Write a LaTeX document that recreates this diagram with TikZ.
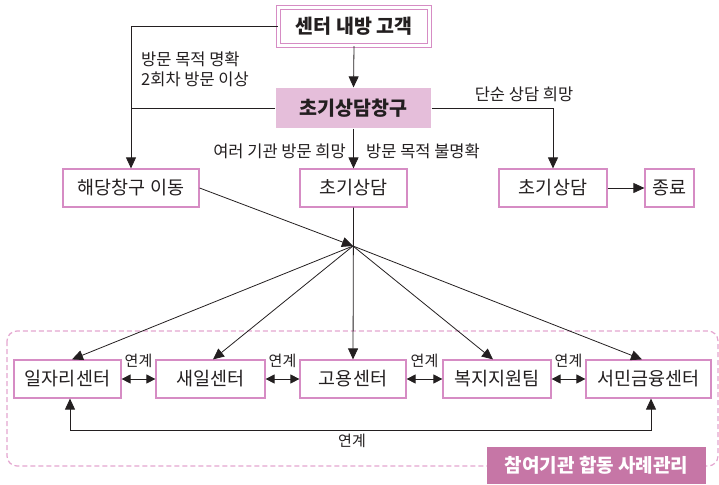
\documentclass[tikz,border=0pt]{standalone}
\usepackage{fontspec}
\setmainfont{Noto Sans CJK KR}
\usetikzlibrary{arrows.meta,calc}
\definecolor{pinkline}{RGB}{214,140,196}
\definecolor{pinkfill}{RGB}{229,190,218}
\definecolor{pinkdark}{RGB}{198,118,166}
\definecolor{pinkdash}{RGB}{228,166,208}
\definecolor{ink}{RGB}{35,31,32}
\begin{document}
\begin{tikzpicture}[x=1pt,y=-1pt,
  box/.style={draw=pinkline, line width=1.2pt, fill=white, inner sep=0pt,
    minimum height=38pt, font=\fontsize{18.5}{18.5}\selectfont, text=ink},
  conn/.style={draw=ink, line width=0.8pt},
  tip/.style={-{Triangle[length=11pt,width=10pt]}},
  dtip/.style={{Triangle[length=9pt,width=9pt]}-{Triangle[length=9pt,width=9pt]}},
  lbl/.style={font=\fontsize{16.5}{16.5}\selectfont, text=ink, inner sep=0pt},
  slbl/.style={font=\fontsize{15}{15}\selectfont, text=ink, inner sep=0pt}
]
\useasboundingbox (0,0) rectangle (719,484);

% group frame
\draw[pinkdash, line width=1.2pt, dash pattern=on 5pt off 3pt, rounded corners=10pt]
  (7,331) rectangle (718,466);

% top nodes
\node[box, minimum width=151pt, minimum height=38pt, double=white, double distance=2.2pt,
  font=\fontsize{19.5}{19.5}\selectfont\bfseries] (visit) at (354,26.5) {센터 내방 고객};
\node[box, draw=none, fill=pinkfill, minimum width=155pt, minimum height=40pt,
  font=\fontsize{19.5}{19.5}\selectfont\bfseries] (desk) at (353.5,108) {초기상담창구};

\node[box, minimum width=136pt] (move) at (131,188) {해당창구 이동};
\node[box, minimum width=107pt] (initm) at (353.5,188) {초기상담};
\node[box, minimum width=108pt] (initr) at (553,188) {초기상담};
\node[box, minimum width=49pt] (endn) at (669.5,188) {종료};

\coordinate (hub) at (353,246);

% bottom nodes
\node[box, minimum width=107pt] (b1) at (67.5,379) {일자리센터};
\node[box, minimum width=109pt] (b2) at (210.5,379) {새일센터};
\node[box, minimum width=106pt] (b3) at (353,379) {고용센터};
\node[box, minimum width=108pt] (b4) at (497,379) {복지지원팀};
\node[box, minimum width=125pt] (b5) at (648.5,379) {서민금융센터};

\node[fill=pinkdark, text=white, inner sep=0pt, minimum width=219pt, minimum height=37pt,
  font=\fontsize{19}{19}\selectfont\bfseries] (group) at (596.5,465.5) {참여기관 합동 사례관리};

% connectors at top
\draw[conn, tip] (visit.south) -- (desk.north);
\draw[conn, tip] (visit.west) -| (move.north);
\draw[conn] (desk.west) -- (desk.west -| move.north);
\draw[conn, tip] (desk.east) -| (initr.north);
\draw[conn, tip] (desk.south) -- (initm.north);
\draw[conn, tip] (initr.east) -- (endn.west);

\node[lbl, anchor=west, align=left] (lclear) at (141,69.5) {방문 목적 명확\\[3pt]2회차 방문 이상};
\node[lbl] (lsimple) at (524,94) {단순 상담 희망};
\node[lbl, anchor=east] (lmany) at (346,151) {여러 기관 방문 희망};
\node[lbl, anchor=west] (lunclear) at (366,151) {방문 목적 불명확};

% to hub and fan out
\draw[conn, tip] (move.east) -- (hub);
\draw[conn, tip] (initm.south) -- (b3.north);
\draw[conn, tip] (hub) -- ($(b1.north)+(4.5,0)$);
\draw[conn, tip] (hub) -- ($(b2.north)+(2.5,0)$);
\draw[conn, tip] (hub) -- ($(b4.north)+(-4,0)$);
\draw[conn, tip] (hub) -- ($(b5.north)+(-6.5,0)$);

% links between agencies
\draw[conn, dtip] (b1.east) -- (b2.west);
\draw[conn, dtip] (b2.east) -- (b3.west);
\draw[conn, dtip] (b3.east) -- (b4.west);
\draw[conn, dtip] (b4.east) -- (b5.west);
\node[slbl] (k12) at ($(b1.east)!0.5!(b2.west)+(0,-18)$) {연계};
\node[slbl] (k23) at ($(b2.east)!0.5!(b3.west)+(0,-18)$) {연계};
\node[slbl] (k34) at ($(b3.east)!0.5!(b4.west)+(0,-18)$) {연계};
\node[slbl] (k45) at ($(b4.east)!0.5!(b5.west)+(0,-18)$) {연계};

\draw[conn, {Triangle[length=11pt,width=10pt]}-{Triangle[length=11pt,width=10pt]}]
  ($(b1.south)+(2.5,0)$) -- ++(0,32) -| ($(b5.south)+(2.5,0)$);
\node[slbl] (kall) at (352,441) {연계};
\end{tikzpicture}
\end{document}
